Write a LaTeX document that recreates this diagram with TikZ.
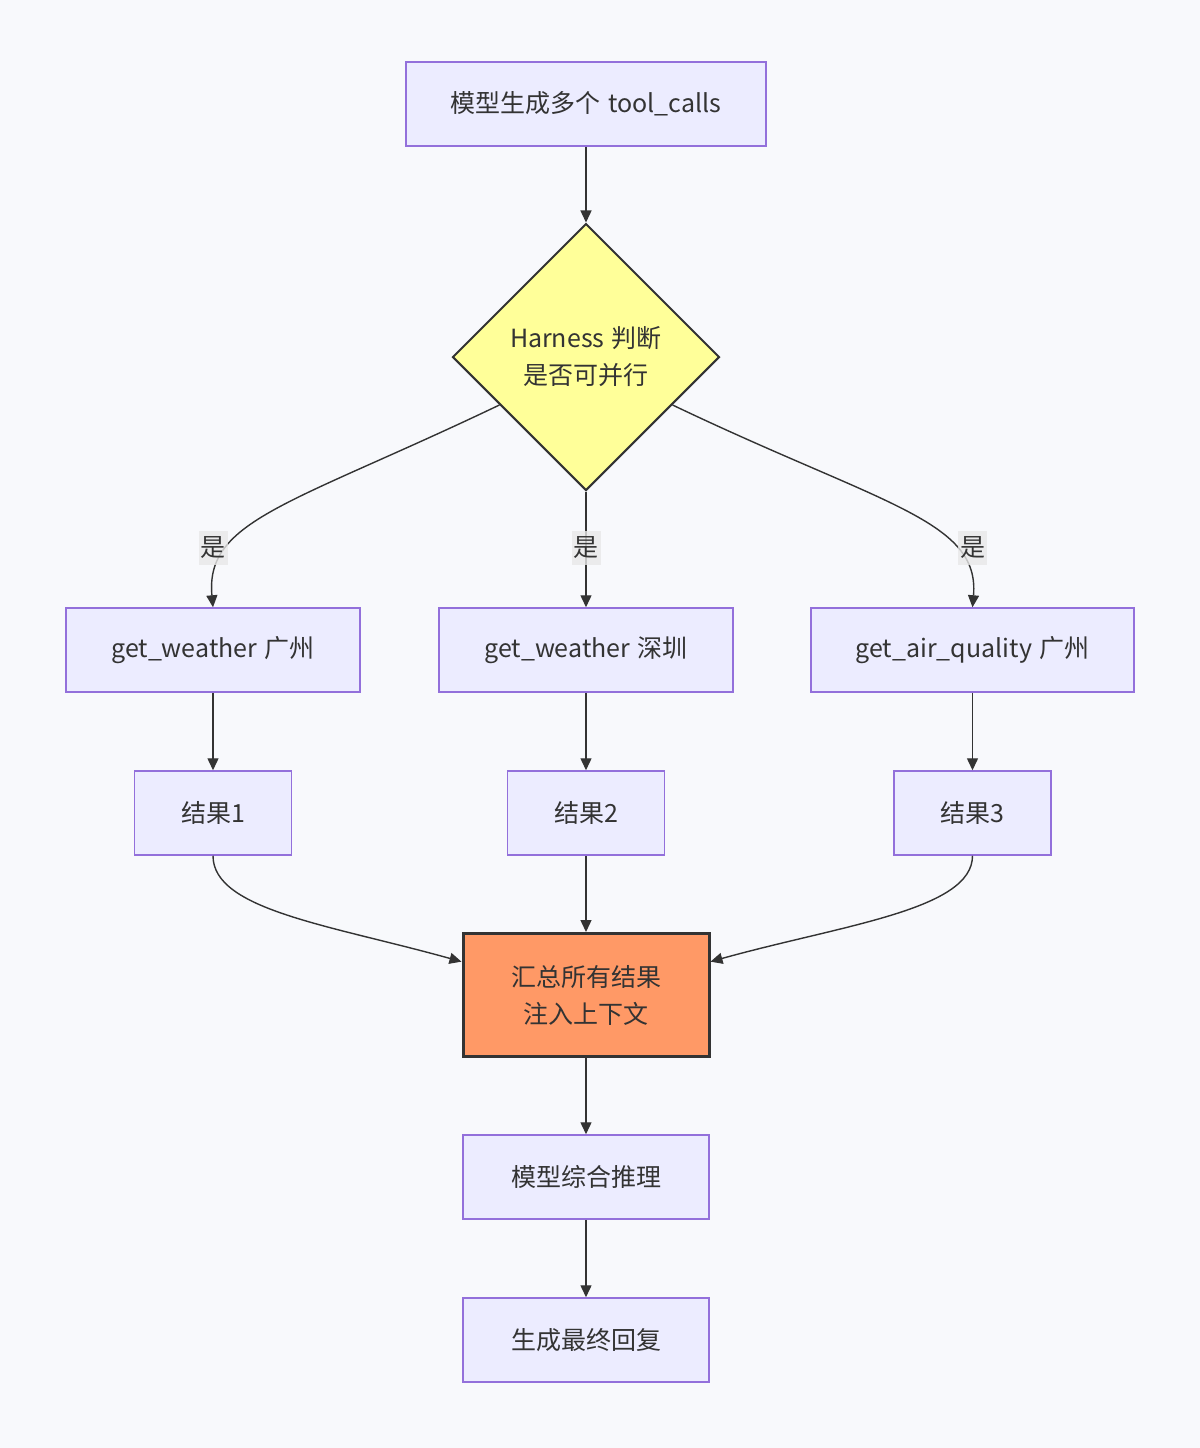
\documentclass[tikz,border=0pt]{standalone}
\usepackage{fontspec}
\setmainfont{Noto Sans CJK SC}
\usetikzlibrary{arrows.meta, positioning, shapes.geometric}
\definecolor{bgc}{RGB}{248,249,252}
\definecolor{boxfill}{RGB}{236,236,255}
\definecolor{boxline}{RGB}{147,112,219}
\definecolor{decfill}{RGB}{255,255,153}
\definecolor{aggfill}{RGB}{255,153,102}
\definecolor{ink}{RGB}{51,51,51}
\begin{document}
\begin{tikzpicture}[x=0.5pt, y=-0.5pt,
  every node/.style={font=\fontsize{12.5pt}{18.5pt}\selectfont, text=ink},
  box/.style={draw=boxline, fill=boxfill, line width=0.75pt, minimum height=42pt, inner sep=0pt},
  decbox/.style={diamond, aspect=1, draw=ink, fill=decfill, line width=1pt, minimum size=133.5pt, inner sep=0pt, align=center},
  aggbox/.style={draw=ink, fill=aggfill, line width=1.5pt, minimum width=123pt, minimum height=61.5pt, inner sep=0pt, align=center},
  arr/.style={-{Triangle[length=6pt,width=5.5pt]}, draw=ink, line width=0.7pt},
  yeslbl/.style={fill=gray!18, fill opacity=0.8, text opacity=1, inner xsep=1pt, inner ysep=3pt}
]
  % Background
  \fill[bgc] (0,0) rectangle (1200,1448);

  % Top
  \node[box, minimum width=180pt] (gen) at (586,104) {模型生成多个\hspace{0.3em}tool\_calls};
  \node[decbox] (dec) at (586,357) {Harness\hspace{0.3em}判断\\是否可并行};

  % Tool calls
  \node[box, minimum width=147pt] (gw1) at (213,650) {get\_weather\hspace{0.3em}广州};
  \node[box, minimum width=147pt] (gw2) at (586,650) {get\_weather\hspace{0.3em}深圳};
  \node[box, minimum width=161.5pt] (aq) at (972.5,650) {get\_air\_quality\hspace{0.3em}广州};

  % Results
  \node[box, minimum width=78.5pt] (r1) at (213,813) {结果1};
  \node[box, minimum width=78.5pt] (r2) at (586,813) {结果2};
  \node[box, minimum width=78.5pt] (r3) at (972.5,813) {结果3};

  % Bottom
  \node[aggbox] (agg) at (586,995) {汇总所有结果\\注入上下文};
  \node[box, minimum width=123pt] (think) at (586,1177) {模型综合推理};
  \node[box, minimum width=123pt] (reply) at (586,1340) {生成最终回复};

  % Arrows
  \draw[arr] (gen) -- (dec);
  \draw[arr] (dec.209) .. controls (290,505) and (205,520) .. (gw1.north);
  \draw[arr] (dec) -- (gw2);
  \draw[arr] (dec.331) .. controls (882,505) and (980,520) .. (aq.north);
  \draw[arr] (gw1) -- (r1);
  \draw[arr] (gw2) -- (r2);
  \draw[arr] (aq) -- (r3);
  \draw[arr] (r1.south) .. controls (213,910) and (330,925) .. (agg.165);
  \draw[arr] (r2) -- (agg);
  \draw[arr] (r3.south) .. controls (972.5,910) and (842,925) .. (agg.15);
  \draw[arr] (agg) -- (think);
  \draw[arr] (think) -- (reply);

  % Labels
  \node[yeslbl] (yes1) at (213,548) {是};
  \node[yeslbl] (yes2) at (586,548) {是};
  \node[yeslbl] (yes3) at (972.5,548) {是};
\end{tikzpicture}
\end{document}
